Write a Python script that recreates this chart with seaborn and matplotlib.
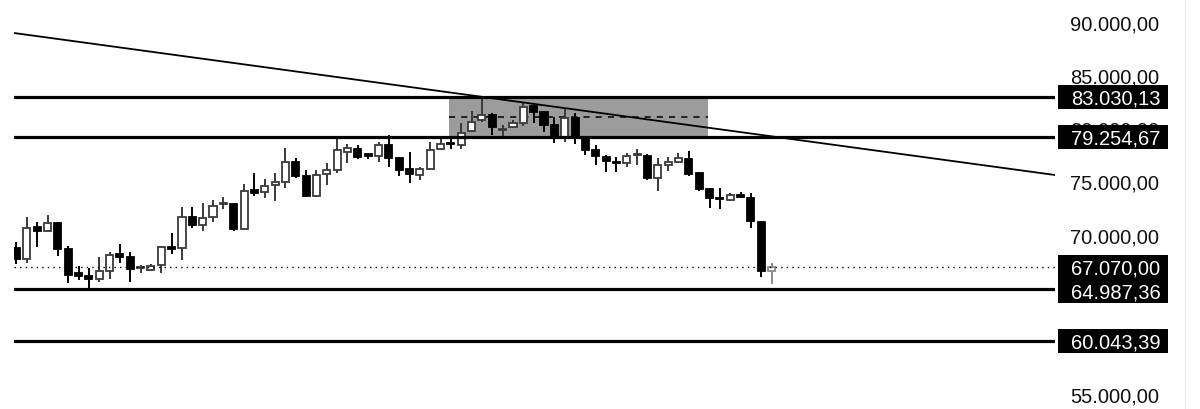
import numpy as np
import pandas as pd
import matplotlib
matplotlib.use("Agg")
import matplotlib.pyplot as plt
import matplotlib.transforms as mtransforms
from matplotlib.patches import Rectangle
from matplotlib.lines import Line2D
import seaborn as sns

# daily candles
opens = [68830, 67800, 70810, 70430, 71180, 68740, 66480, 66200, 65920, 66670,
         68270, 67990, 66950, 66760, 67230, 68930, 68830, 71750, 71000, 71750,
         72970, 72970, 70620, 74290, 74100, 74760, 75040, 76920, 75610, 73720,
         75790, 76170, 77860, 78150, 77680, 77490, 78520, 77300, 76260, 75700,
         76260, 78150, 78710, 78520, 79840, 80870, 81350, 79930, 80220, 80590,
         82190, 81630, 80400, 79280, 81060, 79180, 78050, 77390, 76920, 76830,
         77580, 77490, 75420, 76640, 76920, 77210, 75890, 74380, 73540, 73350,
         73820, 73540, 71280, 66670]
highs = [69400, 71750, 71280, 71940, 71280, 69020, 67140, 66950, 67990, 68460,
         69210, 68460, 67230, 67330, 69020, 70240, 72690, 72690, 73070, 73350,
         73630, 73070, 74850, 75890, 75320, 75890, 78240, 77300, 76170, 76170,
         76830, 79370, 78620, 78520, 77770, 78810, 79460, 77390, 77860, 76450,
         78810, 79280, 79280, 80590, 81720, 82850, 81530, 80400, 80870, 82470,
         82470, 81720, 81160, 82000, 81530, 79280, 78520, 77580, 77390, 77770,
         78150, 77680, 77300, 77390, 77770, 77960, 75980, 74480, 74480, 74010,
         74100, 74010, 71370, 67420]
lows = [67330, 67420, 68930, 70340, 68080, 65540, 65820, 64880, 65630, 65920,
        67420, 65630, 66480, 66670, 66480, 68270, 67700, 70710, 70430, 71280,
        72500, 70430, 70530, 73720, 73540, 73250, 74480, 75420, 73630, 73630,
        74760, 75890, 76830, 77210, 77210, 76920, 76450, 75610, 74950, 75230,
        76170, 78050, 78150, 78150, 79750, 80690, 79460, 79090, 80120, 80310,
        80590, 79750, 78710, 78810, 78620, 77580, 76640, 75980, 75980, 76450,
        76640, 75230, 74200, 76080, 76830, 75610, 74200, 72600, 72500, 73250,
        73540, 70710, 66100, 65450]
closes = [67800, 70710, 70430, 71180, 68740, 66290, 66200, 65920, 66670, 68170,
          67990, 66860, 67050, 67140, 68930, 68740, 71750, 71000, 71660, 72780,
          73070, 70620, 74200, 74010, 74670, 75040, 76920, 75610, 73720, 75700,
          76170, 78050, 78240, 77390, 77490, 78520, 77300, 76170, 75790, 76260,
          78050, 78620, 78620, 79650, 80690, 81350, 80220, 80030, 80590, 82100,
          81630, 80400, 79280, 81060, 79180, 78050, 77490, 77020, 76830, 77490,
          77680, 75420, 76640, 76920, 77300, 75790, 74380, 73540, 73440, 73820,
          73630, 71370, 66670, 67070]

# drawn levels
levels = [83030.13, 79254.67, 64987.36, 60043.39]
last_price = 67070.00
zone_low, zone_high = 79254.67, 83030.13
zone_start, zone_end = 41.8, 66.9
trend_x = [-0.25, 100.4]
trend_y = [89060, 75700]
yticks = [55000, 60000, 65000, 70000, 75000, 80000, 85000, 90000]


def fmt(v):
    s = f"{v:,.2f}"
    return s.replace(",", "X").replace(".", ",").replace("X", ".")


df = pd.DataFrame({"open": opens, "high": highs, "low": lows, "close": closes})
df["x"] = np.arange(len(df))
df["up"] = df["close"] >= df["open"]

sns.set_theme(style="white")
plt.rcParams["font.family"] = ["Liberation Sans", "DejaVu Sans"]

fig = plt.figure(figsize=(12, 4.09), dpi=100)
ax = fig.add_axes([14 / 1200, 0, (1055 - 14) / 1200, 1])
ax.set_xlim(-0.24, 100.4)
ax.set_ylim(53685, 92164)

# resistance zone with mid line
ax.add_patch(Rectangle((zone_start, zone_low), zone_end - zone_start, zone_high - zone_low,
                       facecolor="#9c9c9c", edgecolor="none", zorder=1))
ax.plot([zone_start, zone_end], [(zone_low + zone_high) / 2] * 2, color="black",
        lw=1.1, ls=(0, (4, 4)), zorder=1.5)

# candles
edge = "#3a3a3a"
for _, r in df.iterrows():
    last = r["x"] == len(df) - 1
    ec = "#8a8a8a" if last else (edge if r["up"] else "black")
    fc = "white" if r["up"] else "black"
    ax.vlines(r["x"], r["low"], r["high"], color=ec, lw=1.4, zorder=2)
    bottom = min(r["open"], r["close"])
    h = max(abs(r["close"] - r["open"]), 60)
    ax.bar(r["x"], h, bottom=bottom, width=0.68, color=fc, edgecolor=ec,
           linewidth=1.3, zorder=3)

# levels
for lv in levels:
    ax.axhline(lv, color="black", lw=2.3, zorder=4)
ax.axhline(last_price, color="black", lw=1.0, ls=(0, (1, 3)), zorder=4)

# trend line
sns.lineplot(x=trend_x, y=trend_y, ax=ax, color="black", lw=1.3, zorder=5)

# right price scale
ax.yaxis.tick_right()
ax.set_yticks(yticks)
ax.set_yticklabels([fmt(v) for v in yticks])
ax.tick_params(axis="y", length=0, pad=11, labelsize=14.5, labelcolor="#111111")
ax.set_xticks([])
for s in ax.spines.values():
    s.set_visible(False)

# black price tags
trans = mtransforms.blended_transform_factory(ax.transAxes, ax.transData)
unit = 94.08  # price per pixel
box_h = 24 * unit
tags = sorted(levels + [last_price], reverse=True)
prev = None
for v in tags:
    yc = v
    if prev is not None and prev - yc < box_h:
        yc = prev - box_h
    prev = yc
    x0 = (1058 - 14) / 1041
    x1 = (1168 - 14) / 1041
    ax.add_patch(Rectangle((x0, yc - box_h / 2), x1 - x0, box_h, transform=trans,
                           facecolor="black", edgecolor="none", clip_on=False, zorder=6))
    ax.text((1071 - 14) / 1041, yc, fmt(v), transform=trans, color="white",
            fontsize=14.5, ha="left", va="center_baseline", clip_on=False, zorder=7)

fig.add_artist(Line2D([1185 / 1200] * 2, [0, 1], transform=fig.transFigure,
                      color="#ededed", lw=1))

fig.savefig("out.png", dpi=100, facecolor="white")
